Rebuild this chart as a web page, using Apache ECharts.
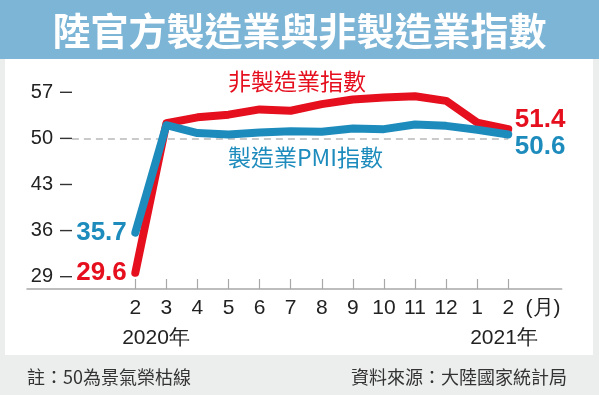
<!DOCTYPE html>
<html>
<head>
<meta charset="utf-8">
<script src="https://cdn.jsdelivr.net/npm/echarts@6/dist/echarts.min.js"></script>
<style>
html,body{margin:0;padding:0;background:#eceeed;}
#c{width:599px;height:395px;}
</style>
</head>
<body>
<div id="c"></div>
<script>
const months = ['2','3','4','5','6','7','8','9','10','11','12','1','2'];
const monthUnit = '(月)';
const years = ['2020年', '2021年'];
const nonMfg = [29.6, 52.3, 53.2, 53.6, 54.4, 54.2, 55.2, 55.9, 56.2, 56.4, 55.7, 52.4, 51.4];
const mfgPMI = [35.7, 52.0, 50.8, 50.6, 50.9, 51.1, 51.0, 51.5, 51.4, 52.1, 51.9, 51.3, 50.6];
const yTicks = [29, 36, 43, 50, 57];
const boomLine = 50;

const RED = '#e50f1e';
const BLUE = '#1d8cbd';
const NUM = '"Liberation Sans", Arial, sans-serif';
const CJK = '"Noto Sans CJK TC", "Noto Sans CJK SC", sans-serif';

const unitPos = months.length - 1 + 1.12;
const xIdx = months.map((m, i) => i);

function seriesData(vals, firstCfg, lastCfg) {
  return vals.map((v, i) => {
    const d = { value: [i, v] };
    if (i === 0) d.label = firstCfg;
    else if (i === vals.length - 1) d.label = lastCfg;
    return d;
  });
}
const valLabel = (color) => ({
  show: true, color: color, fontFamily: NUM, fontWeight: 'bold', fontSize: 26,
  formatter: (p) => p.value[1].toFixed(1)
});

const chart = echarts.init(document.getElementById('c'), null, { renderer: 'canvas' });
chart.setOption({
  animation: false,
  backgroundColor: '#eceeed',
  title: {
    text: '陸官方製造業與非製造業指數',
    left: 'center', top: 7,
    textStyle: { color: '#ffffff', fontSize: 38, fontWeight: 'bold', fontFamily: CJK }
  },
  graphic: [
    { type: 'rect', z: -10, shape: { x: 0, y: 0, width: 599, height: 59 }, style: { fill: '#7db5d6' } },
    { type: 'rect', z: -10, shape: { x: 5, y: 59, width: 588, height: 296 }, style: { fill: '#ffffff' } },
    { type: 'text', x: 228, y: 81, style: { text: '非製造業指數', fill: RED, font: '23px ' + CJK, textVerticalAlign: 'middle' } },
    { type: 'text', x: 228, y: 157, style: { text: '製造業PMI指數', fill: BLUE, font: '23px ' + CJK, textVerticalAlign: 'middle' } },
    { type: 'text', x: 156, y: 338, style: { text: years[0], fill: '#222', font: '21px ' + NUM, textAlign: 'center', textVerticalAlign: 'middle' } },
    { type: 'text', x: 504, y: 338, style: { text: years[1], fill: '#222', font: '21px ' + NUM, textAlign: 'center', textVerticalAlign: 'middle' } },
    { type: 'text', x: 27, y: 377, style: { text: '註：50為景氣榮枯線', fill: '#333', font: '18px ' + CJK, textVerticalAlign: 'middle' } },
    { type: 'text', x: 567, y: 377, style: { text: '資料來源：大陸國家統計局', fill: '#333', font: '18px ' + CJK, textAlign: 'right', textVerticalAlign: 'middle' } }
  ],
  grid: { left: 27, right: 37.3, top: 72, bottom: 106 },
  xAxis: {
    type: 'value', min: -3.485, max: 13.72,
    splitLine: { show: false },
    axisLine: { show: true, lineStyle: { color: '#a8a8a8', width: 1.5 } },
    axisTick: { show: true, inside: true, length: 10, lineStyle: { color: '#a8a8a8', width: 1.2 }, customValues: xIdx },
    axisLabel: {
      customValues: xIdx.concat([unitPos]),
      margin: 9, color: '#222', fontSize: 21, fontFamily: NUM,
      formatter: (v) => {
        const i = Math.round(v);
        if (Math.abs(v - i) < 1e-6 && i >= 0 && i < months.length) return months[i];
        return monthUnit;
      }
    }
  },
  yAxis: {
    type: 'value', min: 27.13, max: 60.08,
    splitLine: { show: false },
    axisLine: { show: false },
    axisTick: { show: false },
    axisLabel: {
      customValues: yTicks, margin: -45,
      formatter: (v) => '{n|' + v + '}{d|}',
      rich: {
        n: { color: '#222', fontSize: 20, fontFamily: NUM, padding: [0, 7, 0, 0], verticalAlign: 'middle' },
        d: { width: 12, height: 1.4, backgroundColor: '#333', verticalAlign: 'middle' }
      }
    }
  },
  series: [
    {
      name: '非製造業指數', type: 'line', symbol: 'circle', symbolSize: 1, showSymbol: true, z: 3,
      itemStyle: { color: RED },
      lineStyle: { color: RED, width: 8, cap: 'round', join: 'round' },
      label: { show: false },
      data: seriesData(nonMfg,
        Object.assign(valLabel(RED), { position: 'left', distance: 8 }),
        Object.assign(valLabel(RED), { position: 'right', distance: 6, offset: [0, -9] })),
      markLine: {
        silent: true, symbol: 'none', z: 1,
        label: { show: false },
        lineStyle: { color: '#b9b9b9', type: [7, 5], width: 1.5 },
        data: [[{ coord: [-2.04, boomLine] }, { coord: [12, boomLine] }]]
      }
    },
    {
      name: '製造業PMI指數', type: 'line', symbol: 'circle', symbolSize: 1, showSymbol: true, z: 4,
      itemStyle: { color: BLUE },
      lineStyle: { color: BLUE, width: 8, cap: 'round', join: 'round' },
      label: { show: false },
      data: seriesData(mfgPMI,
        Object.assign(valLabel(BLUE), { position: 'left', distance: 8 }),
        Object.assign(valLabel(BLUE), { position: 'right', distance: 6, offset: [0, 12] }))
    }
  ]
});
</script>
</body>
</html>
